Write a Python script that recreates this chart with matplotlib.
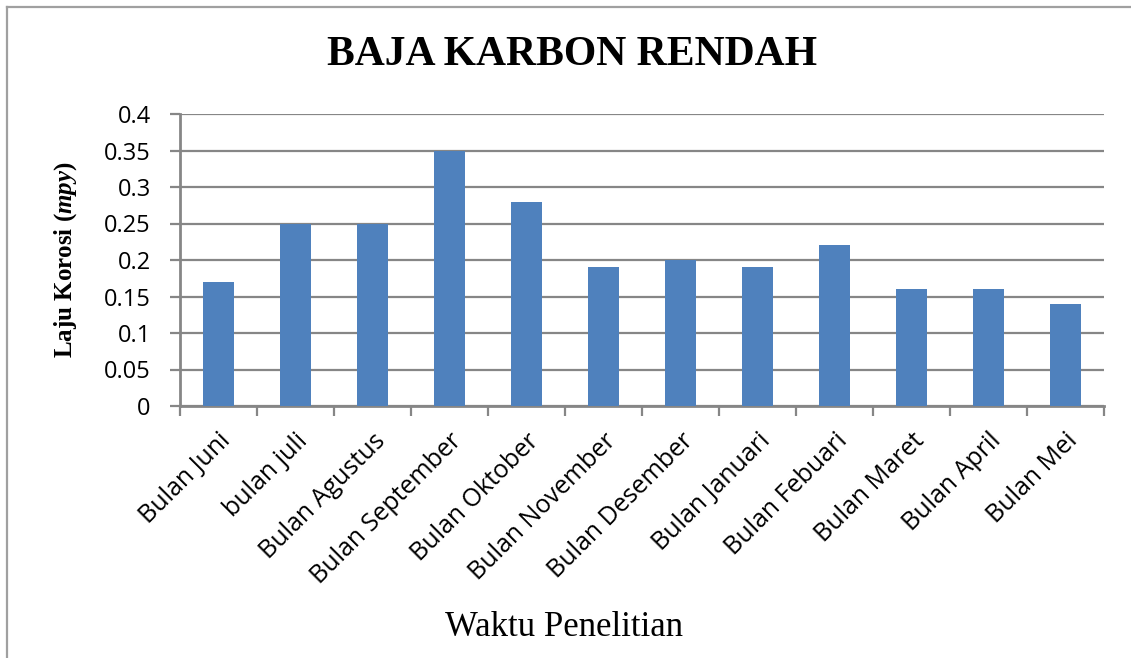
import matplotlib
matplotlib.use("Agg")
import matplotlib.pyplot as plt
from matplotlib.lines import Line2D

# ---------- DATA ----------
months = ["Bulan Juni", "bulan juli", "Bulan Agustus", "Bulan September",
          "Bulan Oktober", "Bulan November", "Bulan Desember", "Bulan Januari",
          "Bulan Febuari", "Bulan Maret", "Bulan April", "Bulan Mei"]
rates = [0.17, 0.25, 0.25, 0.35, 0.28, 0.19, 0.20, 0.19, 0.22, 0.16, 0.16, 0.14]
yticks = [0, 0.05, 0.1, 0.15, 0.2, 0.25, 0.3, 0.35, 0.4]
ytick_labels = ["0", "0.05", "0.1", "0.15", "0.2", "0.25", "0.3", "0.35", "0.4"]

# ---------- STYLE ----------
plt.rcParams["mathtext.fontset"] = "custom"
plt.rcParams["mathtext.it"] = "Liberation Serif:italic:bold"
plt.rcParams["mathtext.rm"] = "Liberation Serif:bold"

W, H = 1131, 658
fig = plt.figure(figsize=(W / 100, H / 100), dpi=100)
ax = fig.add_axes([180 / W, 1 - 406 / H, (1104 - 180) / W, (406 - 114) / H])

grey = "#868686"
x = list(range(len(months)))
ax.bar(x, rates, width=0.4, color="#4F81BD", zorder=3)

ax.set_xlim(-0.5, len(months) - 0.5)
ax.set_ylim(0, 0.4)
ax.set_yticks(yticks)
ax.set_yticklabels(ytick_labels, fontfamily="Open Sans", fontsize=17)
ax.yaxis.grid(True, color=grey, linewidth=1.6, zorder=0)

# ticks between categories
ax.set_xticks([i - 0.5 for i in range(len(months) + 1)])
ax.set_xticklabels([])
ax.set_xticks(x, minor=True)
ax.set_xticklabels(months, minor=True, rotation=45, ha="right",
                   rotation_mode="anchor", fontfamily="Open Sans", fontsize=18)
ax.tick_params(axis="x", which="minor", length=0, pad=16)
ax.tick_params(axis="x", which="major", length=7, width=1.6, color=grey)
ax.tick_params(axis="y", length=7, width=1.6, color=grey, pad=14)

for side in ["top", "right"]:
    ax.spines[side].set_visible(False)
for side in ["left", "bottom"]:
    ax.spines[side].set_color(grey)
    ax.spines[side].set_linewidth(2)

ax.set_ylabel(r"Laju Korosi $\mathit{(mpy)}$", fontfamily="Liberation Serif",
              fontweight="bold", fontsize=18, labelpad=18)

fig.text(572 / W, 1 - 55 / H, "BAJA KARBON RENDAH", ha="center", va="center",
         fontfamily="Liberation Serif", fontweight="bold", fontsize=30)
fig.text(564 / W, 1 - 628 / H, "Waktu Penelitian", ha="center", va="center",
         fontfamily="Liberation Serif", fontsize=25)

# outer frame (top and left edge visible)
fig.add_artist(Line2D([7 / W, 1], [1 - 7 / H, 1 - 7 / H], color="#A0A0A0",
                      linewidth=1.6, transform=fig.transFigure))
fig.add_artist(Line2D([7 / W, 7 / W], [0, 1 - 7 / H], color="#A0A0A0",
                      linewidth=1.6, transform=fig.transFigure))

fig.savefig("out.png", dpi=100)
